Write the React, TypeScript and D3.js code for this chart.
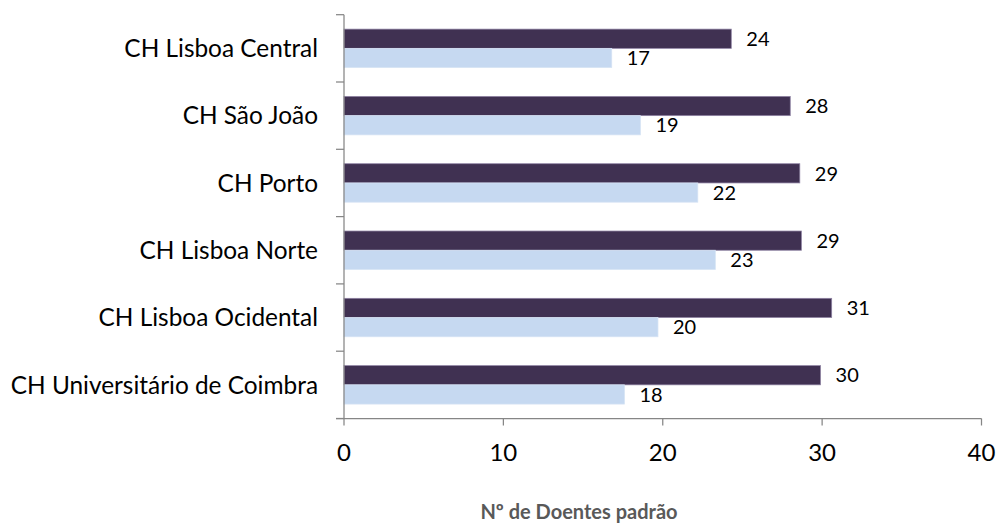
import React from "react";
import * as d3 from "d3";

const categories = [
  "CH Lisboa Central",
  "CH São João",
  "CH Porto",
  "CH Lisboa Norte",
  "CH Lisboa Ocidental",
  "CH Universitário de Coimbra",
];
const seriesDark = [24.3, 28.0, 28.6, 28.7, 30.6, 29.9];
const seriesLight = [16.8, 18.6, 22.2, 23.3, 19.7, 17.6];
const xTicks = [0, 10, 20, 30, 40];
const axisTitle = "Nº de Doentes padrão";

const W = 997;
const H = 523;
const FONT = "Lato, 'Open Sans', sans-serif";

export default function App() {
  const x = d3.scaleLinear().domain([0, 40]).range([344, 981.5]);
  const y = d3.scaleBand<string>().domain(categories).range([14.7, 418.5]).padding(0);
  const sub = d3
    .scaleBand<string>()
    .domain(["dark", "light"])
    .range([0, y.bandwidth()])
    .paddingInner(0)
    .paddingOuter(0.75);
  const fmt = d3.format(".0f");
  const axisColor = "#868686";
  const bounds = [...categories.map((c) => y(c) as number), y.range()[1]];

  const series = [
    { key: "dark", values: seriesDark, fill: "#403152", stroke: "#8e82a3" },
    { key: "light", values: seriesLight, fill: "#c6d9f1", stroke: "#d6e3f4" },
  ];

  return (
    <svg
      width={W}
      height={H}
      style={{ position: "absolute", left: 0, top: 0, display: "block", background: "#fff" }}
      fontFamily={FONT}
    >
      {series.map((s) =>
        s.values.map((v, i) => {
          const y0 = (y(categories[i]) as number) + (sub(s.key) as number);
          return (
            <g key={s.key + i}>
              <rect
                x={x(0)}
                y={y0}
                width={x(v) - x(0)}
                height={sub.bandwidth()}
                fill={s.fill}
                stroke={s.stroke}
                strokeWidth={0.75}
              />
              <text
                x={x(v) + 15}
                y={y0 + sub.bandwidth() / 2}
                dy="0.36em"
                fontSize={20}
                fill="#000"
              >
                {fmt(v)}
              </text>
            </g>
          );
        })
      )}

      {/* y axis */}
      <line x1={x(0)} x2={x(0)} y1={y.range()[0]} y2={y.range()[1]} stroke={axisColor} strokeWidth={1.25} />
      {bounds.map((b, i) => (
        <line key={"yt" + i} x1={x(0) - 8} x2={x(0)} y1={b} y2={b} stroke={axisColor} strokeWidth={1.25} />
      ))}
      {categories.map((c) => (
        <text
          key={c}
          x={318}
          y={(y(c) as number) + y.bandwidth() / 2}
          dy="0.36em"
          textAnchor="end"
          fontSize={24.4}
          fill="#000"
        >
          {c}
        </text>
      ))}

      {/* x axis */}
      <line x1={x(0) - 8} x2={x(40)} y1={y.range()[1]} y2={y.range()[1]} stroke={axisColor} strokeWidth={1.25} />
      {xTicks.map((t) => (
        <g key={"xt" + t}>
          <line x1={x(t)} x2={x(t)} y1={y.range()[1]} y2={y.range()[1] + 7} stroke={axisColor} strokeWidth={1.25} />
          <text x={x(t)} y={461} textAnchor="middle" fontSize={24} fill="#000">
            {t}
          </text>
        </g>
      ))}
      <text x={579} y={519} textAnchor="middle" fontSize={20} fontWeight="bold" fill="#595959">
        {axisTitle}
      </text>
    </svg>
  );
}
